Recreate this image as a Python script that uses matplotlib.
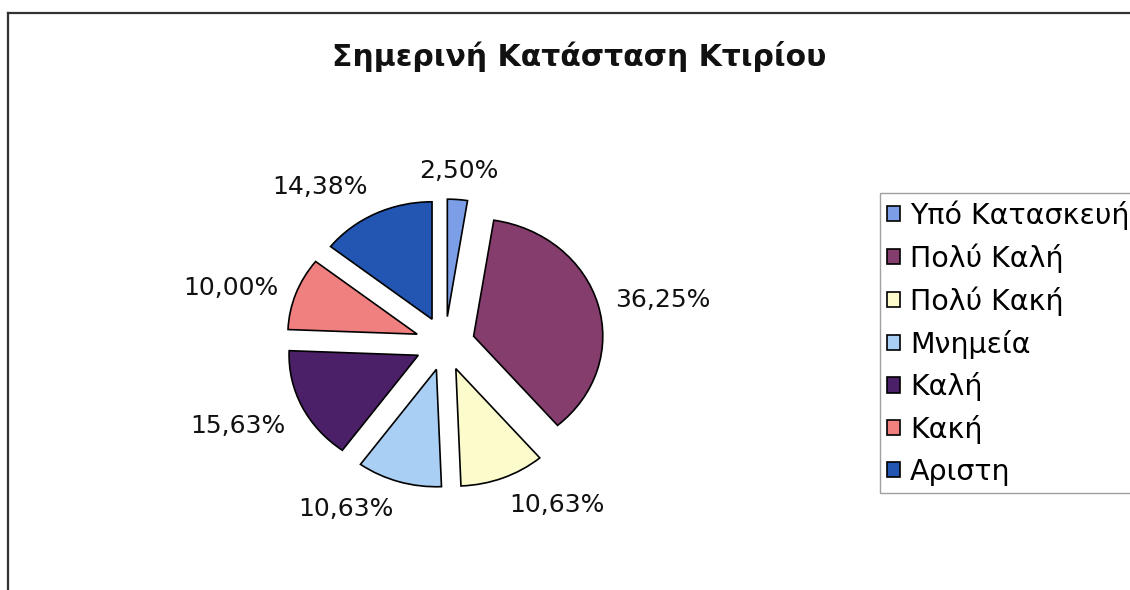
import numpy as np
import matplotlib
matplotlib.use("Agg")
import matplotlib.pyplot as plt
from matplotlib.lines import Line2D

plt.rcParams['font.family'] = ['DejaVu Sans']

title = "Σημερινή Κατάσταση Κτιρίου"
categories = ["Υπό Κατασκευή", "Πολύ Καλή", "Πολύ Κακή", "Μνημεία", "Καλή", "Κακή", "Αριστη"]
values = [2.50, 36.25, 10.63, 10.63, 15.63, 10.00, 14.38]
colors = ["#7b9ee6", "#843d6c", "#fbfbcc", "#a9cff5", "#4b2068", "#f08080", "#2356b2"]

fig = plt.figure(figsize=(11.3, 5.9), dpi=100)
fig.patch.set_facecolor("white")

# outer chart frame (top and left edges visible)
fig.add_artist(Line2D([8/1130, 1.0], [1-13/590, 1-13/590], color="#333333", lw=1.6, transform=fig.transFigure))
fig.add_artist(Line2D([8/1130, 8/1130], [1-13/590, 0.0], color="#333333", lw=1.6, transform=fig.transFigure))

ax = fig.add_axes([237/1130, 1-529/590, 416/1130, 371/590])
wedges, _ = ax.pie(values, colors=colors, startangle=90, counterclock=False,
                   explode=[0.23]*len(values), radius=1.0,
                   wedgeprops=dict(edgecolor="black", linewidth=1.2))
ax.set_aspect('auto')
ax.set_xlim(-1.61, 1.61)
ax.set_ylim(-1.58, 1.58)
ax.axis('off')

for w, v in zip(wedges, values):
    th = np.deg2rad((w.theta1 + w.theta2) / 2)
    cx, cy = w.center
    c, s = np.cos(th), np.sin(th)
    x = cx + 1.14 * w.r * c
    y = cy + 1.14 * w.r * s
    ha = 'center' if abs(c) < 0.2 else ('left' if c > 0 else 'right')
    va = 'bottom' if s > 0.6 else ('top' if s < -0.4 else 'center')
    ax.text(x, y, f"{v:.2f}%".replace('.', ','), ha=ha, va=va, fontsize=18, color="#111111")

fig.text(579/1130, 1-57/590, title, ha='center', va='center', fontsize=21.5, fontweight='bold', color="#111111")

leg = fig.legend(wedges, categories, loc='upper left', bbox_to_anchor=(880/1130, 1-193/590),
                 fontsize=20.5, frameon=True, fancybox=False, shadow=False,
                 handlelength=0.45, handleheight=0.45, handletextpad=0.35,
                 labelspacing=0.48, borderpad=0.25, borderaxespad=0)
leg.get_frame().set_edgecolor("#888888")
leg.get_frame().set_linewidth(1.0)

fig.savefig("out.png", dpi=100, facecolor="white")
